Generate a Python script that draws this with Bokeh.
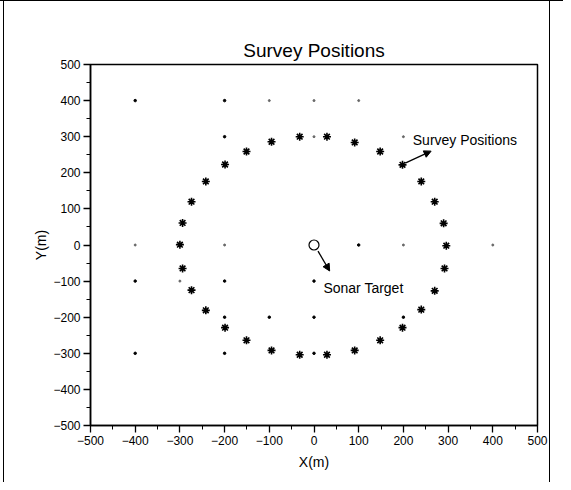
from bokeh.plotting import figure
from bokeh.models import (FixedTicker, Arrow, NormalHead, Label, Range1d)
from bokeh.embed import file_html
from bokeh.resources import INLINE

# ---- data ----
survey_x = [-300, -294, -274, -242, -199, -151, -95, -32, 29, 91, 148, 198, 240, 270, 290,
            296, 292, 270, 240, 198, 148, 91, 29, -32, -95, -151, -199, -242, -274, -294]
survey_y = [1, 61, 120, 176, 223, 259, 286, 300, 300, 284, 259, 222, 176, 120, 60,
            -2, -65, -127, -179, -229, -264, -292, -304, -304, -292, -264, -229, -181, -125, -65]

grid_dark_x = [-400, -200, -200, 100, -400, -200, -200, -100, 0, 200, -400, -200, 0, 0]
grid_dark_y = [400, 400, 300, 0, -100, -100, -200, -200, -200, -200, -300, -300, -300, -100]
grid_faint_x = [-100, 0, 100, 0, 200, -400, -200, 200, 400, -300]
grid_faint_y = [400, 400, 400, 300, 300, 0, 0, 0, 0, -100]

target_x = [0]
target_y = [0]

ticks = [-500, -400, -300, -200, -100, 0, 100, 200, 300, 400, 500]
minor = [-450, -350, -250, -150, -50, 50, 150, 250, 350, 450]

FONT = "Liberation Sans"

p = figure(width=563, height=482, output_backend="svg", toolbar_location=None,
           x_range=Range1d(-500, 500), y_range=Range1d(-500, 500),
           min_border_left=90, min_border_right=26, min_border_top=64, min_border_bottom=57,
           title="Survey Positions")

p.background_fill_alpha = 0
p.border_fill_alpha = 0
p.styles = {
    "background-color": "white",
    "background-image": "linear-gradient(black, black), linear-gradient(black, black)",
    "background-size": "1px 100%, 1px 100%",
    "background-position": "3px 0px, 549px 0px",
    "background-repeat": "no-repeat",
    "box-shadow": "inset 0px 1px 0px 0px black",
}

p.title.text_font = FONT
p.title.text_font_size = "19px"
p.title.text_font_style = "normal"
p.title.text_color = "black"
p.title.align = "center"
p.title.standoff = 7

p.xgrid.visible = False
p.ygrid.visible = False
p.outline_line_color = "black"
p.outline_line_width = 1.5
p.outline_line_alpha = 1

for ax in (p.xaxis[0], p.yaxis[0]):
    ax.ticker = FixedTicker(ticks=ticks, minor_ticks=minor)
    ax.major_tick_out = 7
    ax.major_tick_in = 0
    ax.minor_tick_out = 4
    ax.minor_tick_in = 0
    ax.axis_line_width = 1.5
    ax.major_tick_line_width = 1.3
    ax.minor_tick_line_width = 1
    ax.major_label_text_font = FONT
    ax.major_label_text_font_size = "12px"
    ax.major_label_text_color = "black"
    ax.axis_label_text_font = FONT
    ax.axis_label_text_font_size = "14px"
    ax.axis_label_text_font_style = "normal"
    ax.axis_label_text_color = "black"
    ax.major_label_standoff = 3

p.xaxis.axis_label = "X(m)"
p.yaxis.axis_label = "Y(m)"
p.xaxis.axis_label_standoff = 6
p.yaxis.axis_label_standoff = 1

# grid of small dots
p.scatter(grid_dark_x, grid_dark_y, marker="circle", size=2.5, color="black")
p.scatter(grid_faint_x, grid_faint_y, marker="circle", size=2, color="#666666")

# survey positions
p.scatter(survey_x, survey_y, marker="asterisk", size=8, line_color="black", line_width=1.6)

# sonar target
p.scatter(target_x, target_y, marker="circle", size=10, fill_color="white",
          line_color="black", line_width=1.2)

# annotations
p.add_layout(Arrow(end=NormalHead(size=7, fill_color="black", line_color="black"),
                   x_start=204, y_start=227, x_end=262, y_end=260,
                   line_width=1.3, line_color="black"))
p.add_layout(Label(x=221, y=290, text="Survey Positions", text_font=FONT,
                   text_font_size="14px", text_baseline="middle", text_align="left",
                   text_color="black"))

p.add_layout(Arrow(end=NormalHead(size=7, fill_color="black", line_color="black"),
                   x_start=9, y_start=-17, x_end=35, y_end=-72,
                   line_width=1.3, line_color="black"))
p.add_layout(Label(x=21, y=-118, text="Sonar Target", text_font=FONT,
                   text_font_size="14px", text_baseline="middle", text_align="left",
                   text_color="black"))

open("out.html", "w").write(file_html(p, INLINE))
